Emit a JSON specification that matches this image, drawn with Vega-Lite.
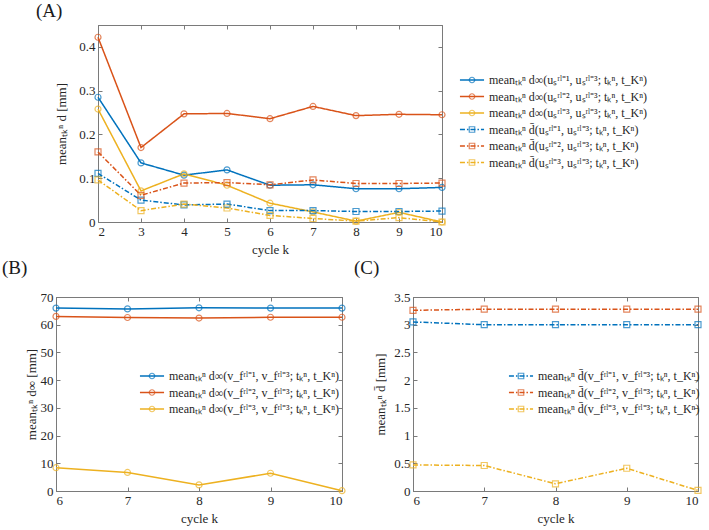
{
  "$schema": "https://vega.github.io/schema/vega-lite/v6.json",
  "background": "white",
  "padding": {"left": 1, "top": 1, "right": 4, "bottom": 3},
  "spacing": 1,
  "resolve": {"scale": {"color": "independent", "stroke": "independent", "shape": "independent", "strokeDash": "independent"}, "legend": {"color": "independent", "stroke": "independent", "shape": "independent", "strokeDash": "independent"}},
  "config": {
    "font": "Liberation Serif",
    "view": {"stroke": "#7a7a7a", "strokeWidth": 1},
    "axis": {
      "grid": false,
      "domainColor": "#7a7a7a",
      "tickColor": "#7a7a7a",
      "tickSize": -4,
      "labelPadding": 7,
      "labelFont": "Liberation Serif",
      "titleFont": "Liberation Serif",
      "labelFontSize": 13,
      "titleFontSize": 13,
      "titleFontWeight": "normal",
      "labelColor": "#262626",
      "titleColor": "#262626",
      "format": "~r"
    },
    "legend": {
      "labelFont": "Liberation Serif",
      "labelFontSize": 12,
      "labelColor": "#262626",
      "labelLimit": 400,
      "padding": 0,
      "rowPadding": 4.5,
      "labelOffset": 11,
      "symbolSize": 30
    },
    "title": {"font": "Liberation Serif", "fontSize": 19, "fontWeight": "normal", "color": "#1a1a1a", "anchor": "start", "frame": "group"}
  },
  "vconcat": [
    {
      "bounds": "flush",
      "spacing": 11,
      "resolve": {"scale": {"color": "independent", "stroke": "independent", "shape": "independent", "strokeDash": "independent"}, "legend": {"color": "independent", "stroke": "independent", "shape": "independent", "strokeDash": "independent"}},
      "hconcat": [
        {"width": 31, "height": 1, "data": {"values": []}, "mark": "point", "view": {"stroke": null}},
        {
          "width": 344,
          "height": 197,
          "title": {"text": "(A)", "dx": -62, "offset": 4},
          "data": {"values": [
            {"k": 2, "v": 0.285, "s": "meanₜₖⁿ d∞(uₛʳˡ⁼¹, uₛʳˡ⁼³; tₖⁿ, t_Kⁿ)"},
            {"k": 3, "v": 0.135, "s": "meanₜₖⁿ d∞(uₛʳˡ⁼¹, uₛʳˡ⁼³; tₖⁿ, t_Kⁿ)"},
            {"k": 4, "v": 0.107, "s": "meanₜₖⁿ d∞(uₛʳˡ⁼¹, uₛʳˡ⁼³; tₖⁿ, t_Kⁿ)"},
            {"k": 5, "v": 0.119, "s": "meanₜₖⁿ d∞(uₛʳˡ⁼¹, uₛʳˡ⁼³; tₖⁿ, t_Kⁿ)"},
            {"k": 6, "v": 0.084, "s": "meanₜₖⁿ d∞(uₛʳˡ⁼¹, uₛʳˡ⁼³; tₖⁿ, t_Kⁿ)"},
            {"k": 7, "v": 0.085, "s": "meanₜₖⁿ d∞(uₛʳˡ⁼¹, uₛʳˡ⁼³; tₖⁿ, t_Kⁿ)"},
            {"k": 8, "v": 0.076, "s": "meanₜₖⁿ d∞(uₛʳˡ⁼¹, uₛʳˡ⁼³; tₖⁿ, t_Kⁿ)"},
            {"k": 9, "v": 0.076, "s": "meanₜₖⁿ d∞(uₛʳˡ⁼¹, uₛʳˡ⁼³; tₖⁿ, t_Kⁿ)"},
            {"k": 10, "v": 0.079, "s": "meanₜₖⁿ d∞(uₛʳˡ⁼¹, uₛʳˡ⁼³; tₖⁿ, t_Kⁿ)"},
            {"k": 2, "v": 0.422, "s": "meanₜₖⁿ d∞(uₛʳˡ⁼², uₛʳˡ⁼³; tₖⁿ, t_Kⁿ)"},
            {"k": 3, "v": 0.170, "s": "meanₜₖⁿ d∞(uₛʳˡ⁼², uₛʳˡ⁼³; tₖⁿ, t_Kⁿ)"},
            {"k": 4, "v": 0.247, "s": "meanₜₖⁿ d∞(uₛʳˡ⁼², uₛʳˡ⁼³; tₖⁿ, t_Kⁿ)"},
            {"k": 5, "v": 0.248, "s": "meanₜₖⁿ d∞(uₛʳˡ⁼², uₛʳˡ⁼³; tₖⁿ, t_Kⁿ)"},
            {"k": 6, "v": 0.236, "s": "meanₜₖⁿ d∞(uₛʳˡ⁼², uₛʳˡ⁼³; tₖⁿ, t_Kⁿ)"},
            {"k": 7, "v": 0.264, "s": "meanₜₖⁿ d∞(uₛʳˡ⁼², uₛʳˡ⁼³; tₖⁿ, t_Kⁿ)"},
            {"k": 8, "v": 0.243, "s": "meanₜₖⁿ d∞(uₛʳˡ⁼², uₛʳˡ⁼³; tₖⁿ, t_Kⁿ)"},
            {"k": 9, "v": 0.246, "s": "meanₜₖⁿ d∞(uₛʳˡ⁼², uₛʳˡ⁼³; tₖⁿ, t_Kⁿ)"},
            {"k": 10, "v": 0.245, "s": "meanₜₖⁿ d∞(uₛʳˡ⁼², uₛʳˡ⁼³; tₖⁿ, t_Kⁿ)"},
            {"k": 2, "v": 0.258, "s": "meanₜₖⁿ d∞(uₛʳˡ⁼³, uₛʳˡ⁼³; tₖⁿ, t_Kⁿ)"},
            {"k": 3, "v": 0.071, "s": "meanₜₖⁿ d∞(uₛʳˡ⁼³, uₛʳˡ⁼³; tₖⁿ, t_Kⁿ)"},
            {"k": 4, "v": 0.110, "s": "meanₜₖⁿ d∞(uₛʳˡ⁼³, uₛʳˡ⁼³; tₖⁿ, t_Kⁿ)"},
            {"k": 5, "v": 0.084, "s": "meanₜₖⁿ d∞(uₛʳˡ⁼³, uₛʳˡ⁼³; tₖⁿ, t_Kⁿ)"},
            {"k": 6, "v": 0.043, "s": "meanₜₖⁿ d∞(uₛʳˡ⁼³, uₛʳˡ⁼³; tₖⁿ, t_Kⁿ)"},
            {"k": 7, "v": 0.023, "s": "meanₜₖⁿ d∞(uₛʳˡ⁼³, uₛʳˡ⁼³; tₖⁿ, t_Kⁿ)"},
            {"k": 8, "v": 0.002, "s": "meanₜₖⁿ d∞(uₛʳˡ⁼³, uₛʳˡ⁼³; tₖⁿ, t_Kⁿ)"},
            {"k": 9, "v": 0.022, "s": "meanₜₖⁿ d∞(uₛʳˡ⁼³, uₛʳˡ⁼³; tₖⁿ, t_Kⁿ)"},
            {"k": 10, "v": 0.000, "s": "meanₜₖⁿ d∞(uₛʳˡ⁼³, uₛʳˡ⁼³; tₖⁿ, t_Kⁿ)"},
            {"k": 2, "v": 0.111, "s": "meanₜₖⁿ d̄(uₛʳˡ⁼¹, uₛʳˡ⁼³; tₖⁿ, t_Kⁿ)"},
            {"k": 3, "v": 0.050, "s": "meanₜₖⁿ d̄(uₛʳˡ⁼¹, uₛʳˡ⁼³; tₖⁿ, t_Kⁿ)"},
            {"k": 4, "v": 0.039, "s": "meanₜₖⁿ d̄(uₛʳˡ⁼¹, uₛʳˡ⁼³; tₖⁿ, t_Kⁿ)"},
            {"k": 5, "v": 0.041, "s": "meanₜₖⁿ d̄(uₛʳˡ⁼¹, uₛʳˡ⁼³; tₖⁿ, t_Kⁿ)"},
            {"k": 6, "v": 0.026, "s": "meanₜₖⁿ d̄(uₛʳˡ⁼¹, uₛʳˡ⁼³; tₖⁿ, t_Kⁿ)"},
            {"k": 7, "v": 0.026, "s": "meanₜₖⁿ d̄(uₛʳˡ⁼¹, uₛʳˡ⁼³; tₖⁿ, t_Kⁿ)"},
            {"k": 8, "v": 0.024, "s": "meanₜₖⁿ d̄(uₛʳˡ⁼¹, uₛʳˡ⁼³; tₖⁿ, t_Kⁿ)"},
            {"k": 9, "v": 0.024, "s": "meanₜₖⁿ d̄(uₛʳˡ⁼¹, uₛʳˡ⁼³; tₖⁿ, t_Kⁿ)"},
            {"k": 10, "v": 0.025, "s": "meanₜₖⁿ d̄(uₛʳˡ⁼¹, uₛʳˡ⁼³; tₖⁿ, t_Kⁿ)"},
            {"k": 2, "v": 0.160, "s": "meanₜₖⁿ d̄(uₛʳˡ⁼², uₛʳˡ⁼³; tₖⁿ, t_Kⁿ)"},
            {"k": 3, "v": 0.061, "s": "meanₜₖⁿ d̄(uₛʳˡ⁼², uₛʳˡ⁼³; tₖⁿ, t_Kⁿ)"},
            {"k": 4, "v": 0.089, "s": "meanₜₖⁿ d̄(uₛʳˡ⁼², uₛʳˡ⁼³; tₖⁿ, t_Kⁿ)"},
            {"k": 5, "v": 0.090, "s": "meanₜₖⁿ d̄(uₛʳˡ⁼², uₛʳˡ⁼³; tₖⁿ, t_Kⁿ)"},
            {"k": 6, "v": 0.085, "s": "meanₜₖⁿ d̄(uₛʳˡ⁼², uₛʳˡ⁼³; tₖⁿ, t_Kⁿ)"},
            {"k": 7, "v": 0.096, "s": "meanₜₖⁿ d̄(uₛʳˡ⁼², uₛʳˡ⁼³; tₖⁿ, t_Kⁿ)"},
            {"k": 8, "v": 0.088, "s": "meanₜₖⁿ d̄(uₛʳˡ⁼², uₛʳˡ⁼³; tₖⁿ, t_Kⁿ)"},
            {"k": 9, "v": 0.088, "s": "meanₜₖⁿ d̄(uₛʳˡ⁼², uₛʳˡ⁼³; tₖⁿ, t_Kⁿ)"},
            {"k": 10, "v": 0.089, "s": "meanₜₖⁿ d̄(uₛʳˡ⁼², uₛʳˡ⁼³; tₖⁿ, t_Kⁿ)"},
            {"k": 2, "v": 0.096, "s": "meanₜₖⁿ d̄(uₛʳˡ⁼³, uₛʳˡ⁼³; tₖⁿ, t_Kⁿ)"},
            {"k": 3, "v": 0.026, "s": "meanₜₖⁿ d̄(uₛʳˡ⁼³, uₛʳˡ⁼³; tₖⁿ, t_Kⁿ)"},
            {"k": 4, "v": 0.041, "s": "meanₜₖⁿ d̄(uₛʳˡ⁼³, uₛʳˡ⁼³; tₖⁿ, t_Kⁿ)"},
            {"k": 5, "v": 0.032, "s": "meanₜₖⁿ d̄(uₛʳˡ⁼³, uₛʳˡ⁼³; tₖⁿ, t_Kⁿ)"},
            {"k": 6, "v": 0.015, "s": "meanₜₖⁿ d̄(uₛʳˡ⁼³, uₛʳˡ⁼³; tₖⁿ, t_Kⁿ)"},
            {"k": 7, "v": 0.008, "s": "meanₜₖⁿ d̄(uₛʳˡ⁼³, uₛʳˡ⁼³; tₖⁿ, t_Kⁿ)"},
            {"k": 8, "v": 0.002, "s": "meanₜₖⁿ d̄(uₛʳˡ⁼³, uₛʳˡ⁼³; tₖⁿ, t_Kⁿ)"},
            {"k": 9, "v": 0.010, "s": "meanₜₖⁿ d̄(uₛʳˡ⁼³, uₛʳˡ⁼³; tₖⁿ, t_Kⁿ)"},
            {"k": 10, "v": 0.000, "s": "meanₜₖⁿ d̄(uₛʳˡ⁼³, uₛʳˡ⁼³; tₖⁿ, t_Kⁿ)"}
          ]},
          "layer": [
            {
              "mark": {"type": "line", "strokeWidth": 1.5},
              "encoding": {
                "x": {"field": "k", "type": "quantitative", "scale": {"domain": [2, 10], "nice": false, "zero": false}, "axis": {"orient": "bottom", "values": [2, 3, 4, 5, 6, 7, 8, 9, 10], "title": "cycle k", "titlePadding": 5}},
                "y": {"field": "v", "type": "quantitative", "scale": {"domain": [0, 0.45], "nice": false}, "axis": {"orient": "left", "values": [0, 0.1, 0.2, 0.3, 0.4], "title": "meanₜₖⁿ d [mm]", "titlePadding": 10}},
                "color": {"field": "s", "type": "nominal",
                  "scale": {"domain": ["meanₜₖⁿ d∞(uₛʳˡ⁼¹, uₛʳˡ⁼³; tₖⁿ, t_Kⁿ)", "meanₜₖⁿ d∞(uₛʳˡ⁼², uₛʳˡ⁼³; tₖⁿ, t_Kⁿ)", "meanₜₖⁿ d∞(uₛʳˡ⁼³, uₛʳˡ⁼³; tₖⁿ, t_Kⁿ)", "meanₜₖⁿ d̄(uₛʳˡ⁼¹, uₛʳˡ⁼³; tₖⁿ, t_Kⁿ)", "meanₜₖⁿ d̄(uₛʳˡ⁼², uₛʳˡ⁼³; tₖⁿ, t_Kⁿ)", "meanₜₖⁿ d̄(uₛʳˡ⁼³, uₛʳˡ⁼³; tₖⁿ, t_Kⁿ)"],
                    "range": ["#0072BD", "#D95319", "#EDB120", "#0072BD", "#D95319", "#EDB120"]},
                  "legend": {"orient": "none", "legendX": 368, "legendY": 49, "title": null, "symbolType": "M-4.4,0H4.4", "symbolStrokeWidth": 1.5}},
                "strokeDash": {"field": "s", "type": "nominal",
                  "scale": {"domain": ["meanₜₖⁿ d∞(uₛʳˡ⁼¹, uₛʳˡ⁼³; tₖⁿ, t_Kⁿ)", "meanₜₖⁿ d∞(uₛʳˡ⁼², uₛʳˡ⁼³; tₖⁿ, t_Kⁿ)", "meanₜₖⁿ d∞(uₛʳˡ⁼³, uₛʳˡ⁼³; tₖⁿ, t_Kⁿ)", "meanₜₖⁿ d̄(uₛʳˡ⁼¹, uₛʳˡ⁼³; tₖⁿ, t_Kⁿ)", "meanₜₖⁿ d̄(uₛʳˡ⁼², uₛʳˡ⁼³; tₖⁿ, t_Kⁿ)", "meanₜₖⁿ d̄(uₛʳˡ⁼³, uₛʳˡ⁼³; tₖⁿ, t_Kⁿ)"],
                    "range": [[1, 0], [1, 0], [1, 0], [5, 2, 1.5, 2], [5, 2, 1.5, 2], [5, 2, 1.5, 2]]},
                  "legend": {"orient": "none", "legendX": 368, "legendY": 49, "title": null, "symbolType": "M-4.4,0H4.4", "symbolStrokeWidth": 1.5}}
              }
            },
            {
              "mark": {"type": "point", "filled": false, "size": 36, "strokeWidth": 1.2},
              "encoding": {
                "x": {"field": "k", "type": "quantitative", "scale": {"domain": [2, 10], "nice": false, "zero": false}, "axis": {"orient": "top", "values": [2, 3, 4, 5, 6, 7, 8, 9, 10], "labels": false, "title": null}},
                "y": {"field": "v", "type": "quantitative", "scale": {"domain": [0, 0.45], "nice": false}, "axis": {"orient": "right", "values": [0, 0.1, 0.2, 0.3, 0.4], "labels": false, "title": null}},
                "stroke": {"field": "s", "type": "nominal",
                  "scale": {"domain": ["meanₜₖⁿ d̄(uₛʳˡ⁼³, uₛʳˡ⁼³; tₖⁿ, t_Kⁿ)", "meanₜₖⁿ d̄(uₛʳˡ⁼², uₛʳˡ⁼³; tₖⁿ, t_Kⁿ)", "meanₜₖⁿ d̄(uₛʳˡ⁼¹, uₛʳˡ⁼³; tₖⁿ, t_Kⁿ)", "meanₜₖⁿ d∞(uₛʳˡ⁼³, uₛʳˡ⁼³; tₖⁿ, t_Kⁿ)", "meanₜₖⁿ d∞(uₛʳˡ⁼², uₛʳˡ⁼³; tₖⁿ, t_Kⁿ)", "meanₜₖⁿ d∞(uₛʳˡ⁼¹, uₛʳˡ⁼³; tₖⁿ, t_Kⁿ)"],
                    "range": ["#EDB120", "#D95319", "#0072BD", "#EDB120", "#D95319", "#0072BD"]},
                  "legend": {"orient": "none", "legendX": 368, "legendY": 49, "title": null, "labelOpacity": 0, "symbolStrokeWidth": 1.2, "symbolFillColor": "transparent",
                    "values": ["meanₜₖⁿ d∞(uₛʳˡ⁼¹, uₛʳˡ⁼³; tₖⁿ, t_Kⁿ)", "meanₜₖⁿ d∞(uₛʳˡ⁼², uₛʳˡ⁼³; tₖⁿ, t_Kⁿ)", "meanₜₖⁿ d∞(uₛʳˡ⁼³, uₛʳˡ⁼³; tₖⁿ, t_Kⁿ)", "meanₜₖⁿ d̄(uₛʳˡ⁼¹, uₛʳˡ⁼³; tₖⁿ, t_Kⁿ)", "meanₜₖⁿ d̄(uₛʳˡ⁼², uₛʳˡ⁼³; tₖⁿ, t_Kⁿ)", "meanₜₖⁿ d̄(uₛʳˡ⁼³, uₛʳˡ⁼³; tₖⁿ, t_Kⁿ)"]}},
                "shape": {"field": "s", "type": "nominal",
                  "scale": {"domain": ["meanₜₖⁿ d̄(uₛʳˡ⁼³, uₛʳˡ⁼³; tₖⁿ, t_Kⁿ)", "meanₜₖⁿ d̄(uₛʳˡ⁼², uₛʳˡ⁼³; tₖⁿ, t_Kⁿ)", "meanₜₖⁿ d̄(uₛʳˡ⁼¹, uₛʳˡ⁼³; tₖⁿ, t_Kⁿ)", "meanₜₖⁿ d∞(uₛʳˡ⁼³, uₛʳˡ⁼³; tₖⁿ, t_Kⁿ)", "meanₜₖⁿ d∞(uₛʳˡ⁼², uₛʳˡ⁼³; tₖⁿ, t_Kⁿ)", "meanₜₖⁿ d∞(uₛʳˡ⁼¹, uₛʳˡ⁼³; tₖⁿ, t_Kⁿ)"],
                    "range": ["square", "square", "square", "circle", "circle", "circle"]},
                  "legend": {"orient": "none", "legendX": 368, "legendY": 49, "title": null, "labelOpacity": 0, "symbolStrokeWidth": 1.2, "symbolFillColor": "transparent",
                    "values": ["meanₜₖⁿ d∞(uₛʳˡ⁼¹, uₛʳˡ⁼³; tₖⁿ, t_Kⁿ)", "meanₜₖⁿ d∞(uₛʳˡ⁼², uₛʳˡ⁼³; tₖⁿ, t_Kⁿ)", "meanₜₖⁿ d∞(uₛʳˡ⁼³, uₛʳˡ⁼³; tₖⁿ, t_Kⁿ)", "meanₜₖⁿ d̄(uₛʳˡ⁼¹, uₛʳˡ⁼³; tₖⁿ, t_Kⁿ)", "meanₜₖⁿ d̄(uₛʳˡ⁼², uₛʳˡ⁼³; tₖⁿ, t_Kⁿ)", "meanₜₖⁿ d̄(uₛʳˡ⁼³, uₛʳˡ⁼³; tₖⁿ, t_Kⁿ)"]}}
              }
            }
          ],
          "resolve": {"axis": {"x": "independent", "y": "independent"}}
        }
      ]
    },
    {
      "bounds": "flush",
      "spacing": 71,
      "resolve": {"scale": {"color": "independent", "stroke": "independent", "shape": "independent", "strokeDash": "independent"}, "legend": {"color": "independent", "stroke": "independent", "shape": "independent", "strokeDash": "independent"}},
      "hconcat": [
        {
          "width": 286,
          "height": 194,
          "title": {"text": "(B)", "dx": -54, "offset": 13},
          "data": {"values": [
            {"k": 6, "v": 66.0, "s": "meanₜₖⁿ d∞(v_fʳˡ⁼¹, v_fʳˡ⁼³; tₖⁿ, t_Kⁿ)"},
            {"k": 7, "v": 65.7, "s": "meanₜₖⁿ d∞(v_fʳˡ⁼¹, v_fʳˡ⁼³; tₖⁿ, t_Kⁿ)"},
            {"k": 8, "v": 66.1, "s": "meanₜₖⁿ d∞(v_fʳˡ⁼¹, v_fʳˡ⁼³; tₖⁿ, t_Kⁿ)"},
            {"k": 9, "v": 66.0, "s": "meanₜₖⁿ d∞(v_fʳˡ⁼¹, v_fʳˡ⁼³; tₖⁿ, t_Kⁿ)"},
            {"k": 10, "v": 66.0, "s": "meanₜₖⁿ d∞(v_fʳˡ⁼¹, v_fʳˡ⁼³; tₖⁿ, t_Kⁿ)"},
            {"k": 6, "v": 63.0, "s": "meanₜₖⁿ d∞(v_fʳˡ⁼², v_fʳˡ⁼³; tₖⁿ, t_Kⁿ)"},
            {"k": 7, "v": 62.6, "s": "meanₜₖⁿ d∞(v_fʳˡ⁼², v_fʳˡ⁼³; tₖⁿ, t_Kⁿ)"},
            {"k": 8, "v": 62.4, "s": "meanₜₖⁿ d∞(v_fʳˡ⁼², v_fʳˡ⁼³; tₖⁿ, t_Kⁿ)"},
            {"k": 9, "v": 62.7, "s": "meanₜₖⁿ d∞(v_fʳˡ⁼², v_fʳˡ⁼³; tₖⁿ, t_Kⁿ)"},
            {"k": 10, "v": 62.7, "s": "meanₜₖⁿ d∞(v_fʳˡ⁼², v_fʳˡ⁼³; tₖⁿ, t_Kⁿ)"},
            {"k": 6, "v": 8.4, "s": "meanₜₖⁿ d∞(v_fʳˡ⁼³, v_fʳˡ⁼³; tₖⁿ, t_Kⁿ)"},
            {"k": 7, "v": 6.7, "s": "meanₜₖⁿ d∞(v_fʳˡ⁼³, v_fʳˡ⁼³; tₖⁿ, t_Kⁿ)"},
            {"k": 8, "v": 2.2, "s": "meanₜₖⁿ d∞(v_fʳˡ⁼³, v_fʳˡ⁼³; tₖⁿ, t_Kⁿ)"},
            {"k": 9, "v": 6.4, "s": "meanₜₖⁿ d∞(v_fʳˡ⁼³, v_fʳˡ⁼³; tₖⁿ, t_Kⁿ)"},
            {"k": 10, "v": 0.1, "s": "meanₜₖⁿ d∞(v_fʳˡ⁼³, v_fʳˡ⁼³; tₖⁿ, t_Kⁿ)"}
          ]},
          "layer": [
            {
              "mark": {"type": "line", "strokeWidth": 1.5},
              "encoding": {
                "x": {"field": "k", "type": "quantitative", "scale": {"domain": [6, 10], "nice": false, "zero": false}, "axis": {"orient": "bottom", "values": [6, 7, 8, 9, 10], "title": "cycle k", "titlePadding": 5}},
                "y": {"field": "v", "type": "quantitative", "scale": {"domain": [0, 70], "nice": false}, "axis": {"orient": "left", "values": [0, 10, 20, 30, 40, 50, 60, 70], "title": "meanₜₖⁿ d∞ [mm]", "titlePadding": 2}},
                "color": {"field": "s", "type": "nominal",
                  "scale": {"domain": ["meanₜₖⁿ d∞(v_fʳˡ⁼¹, v_fʳˡ⁼³; tₖⁿ, t_Kⁿ)", "meanₜₖⁿ d∞(v_fʳˡ⁼², v_fʳˡ⁼³; tₖⁿ, t_Kⁿ)", "meanₜₖⁿ d∞(v_fʳˡ⁼³, v_fʳˡ⁼³; tₖⁿ, t_Kⁿ)"],
                    "range": ["#0072BD", "#D95319", "#EDB120"]},
                  "legend": {"orient": "none", "legendX": 90, "legendY": 73, "title": null, "symbolType": "M-4.4,0H4.4", "symbolStrokeWidth": 1.5}}
              }
            },
            {
              "mark": {"type": "point", "filled": false, "size": 36, "strokeWidth": 1.2},
              "encoding": {
                "x": {"field": "k", "type": "quantitative", "scale": {"domain": [6, 10], "nice": false, "zero": false}, "axis": {"orient": "top", "values": [6, 7, 8, 9, 10], "labels": false, "title": null}},
                "y": {"field": "v", "type": "quantitative", "scale": {"domain": [0, 70], "nice": false}, "axis": {"orient": "right", "values": [0, 10, 20, 30, 40, 50, 60, 70], "labels": false, "title": null}},
                "stroke": {"field": "s", "type": "nominal",
                  "scale": {"domain": ["meanₜₖⁿ d∞(v_fʳˡ⁼³, v_fʳˡ⁼³; tₖⁿ, t_Kⁿ)", "meanₜₖⁿ d∞(v_fʳˡ⁼², v_fʳˡ⁼³; tₖⁿ, t_Kⁿ)", "meanₜₖⁿ d∞(v_fʳˡ⁼¹, v_fʳˡ⁼³; tₖⁿ, t_Kⁿ)"],
                    "range": ["#EDB120", "#D95319", "#0072BD"]},
                  "legend": {"orient": "none", "legendX": 90, "legendY": 73, "title": null, "labelOpacity": 0, "symbolType": "circle", "symbolStrokeWidth": 1.2, "symbolFillColor": "transparent",
                    "values": ["meanₜₖⁿ d∞(v_fʳˡ⁼¹, v_fʳˡ⁼³; tₖⁿ, t_Kⁿ)", "meanₜₖⁿ d∞(v_fʳˡ⁼², v_fʳˡ⁼³; tₖⁿ, t_Kⁿ)", "meanₜₖⁿ d∞(v_fʳˡ⁼³, v_fʳˡ⁼³; tₖⁿ, t_Kⁿ)"]}}
              }
            }
          ],
          "resolve": {"axis": {"x": "independent", "y": "independent"}}
        },
        {
          "width": 285,
          "height": 194,
          "title": {"text": "(C)", "dx": -59, "offset": 13},
          "data": {"values": [
            {"k": 6, "v": 3.05, "s": "meanₜₖⁿ d̄(v_fʳˡ⁼¹, v_fʳˡ⁼³; tₖⁿ, t_Kⁿ)"},
            {"k": 7, "v": 3.0, "s": "meanₜₖⁿ d̄(v_fʳˡ⁼¹, v_fʳˡ⁼³; tₖⁿ, t_Kⁿ)"},
            {"k": 8, "v": 3.0, "s": "meanₜₖⁿ d̄(v_fʳˡ⁼¹, v_fʳˡ⁼³; tₖⁿ, t_Kⁿ)"},
            {"k": 9, "v": 3.0, "s": "meanₜₖⁿ d̄(v_fʳˡ⁼¹, v_fʳˡ⁼³; tₖⁿ, t_Kⁿ)"},
            {"k": 10, "v": 3.0, "s": "meanₜₖⁿ d̄(v_fʳˡ⁼¹, v_fʳˡ⁼³; tₖⁿ, t_Kⁿ)"},
            {"k": 6, "v": 3.26, "s": "meanₜₖⁿ d̄(v_fʳˡ⁼², v_fʳˡ⁼³; tₖⁿ, t_Kⁿ)"},
            {"k": 7, "v": 3.28, "s": "meanₜₖⁿ d̄(v_fʳˡ⁼², v_fʳˡ⁼³; tₖⁿ, t_Kⁿ)"},
            {"k": 8, "v": 3.28, "s": "meanₜₖⁿ d̄(v_fʳˡ⁼², v_fʳˡ⁼³; tₖⁿ, t_Kⁿ)"},
            {"k": 9, "v": 3.28, "s": "meanₜₖⁿ d̄(v_fʳˡ⁼², v_fʳˡ⁼³; tₖⁿ, t_Kⁿ)"},
            {"k": 10, "v": 3.28, "s": "meanₜₖⁿ d̄(v_fʳˡ⁼², v_fʳˡ⁼³; tₖⁿ, t_Kⁿ)"},
            {"k": 6, "v": 0.47, "s": "meanₜₖⁿ d̄(v_fʳˡ⁼³, v_fʳˡ⁼³; tₖⁿ, t_Kⁿ)"},
            {"k": 7, "v": 0.46, "s": "meanₜₖⁿ d̄(v_fʳˡ⁼³, v_fʳˡ⁼³; tₖⁿ, t_Kⁿ)"},
            {"k": 8, "v": 0.13, "s": "meanₜₖⁿ d̄(v_fʳˡ⁼³, v_fʳˡ⁼³; tₖⁿ, t_Kⁿ)"},
            {"k": 9, "v": 0.41, "s": "meanₜₖⁿ d̄(v_fʳˡ⁼³, v_fʳˡ⁼³; tₖⁿ, t_Kⁿ)"},
            {"k": 10, "v": 0.01, "s": "meanₜₖⁿ d̄(v_fʳˡ⁼³, v_fʳˡ⁼³; tₖⁿ, t_Kⁿ)"}
          ]},
          "layer": [
            {
              "mark": {"type": "line", "strokeWidth": 1.5, "strokeDash": [5, 2, 1.5, 2]},
              "encoding": {
                "x": {"field": "k", "type": "quantitative", "scale": {"domain": [6, 10], "nice": false, "zero": false}, "axis": {"orient": "bottom", "values": [6, 7, 8, 9, 10], "title": "cycle k", "titlePadding": 5}},
                "y": {"field": "v", "type": "quantitative", "scale": {"domain": [0, 3.5], "nice": false}, "axis": {"orient": "left", "values": [0, 0.5, 1, 1.5, 2, 2.5, 3, 3.5], "title": "meanₜₖⁿ d̄ [mm]", "titlePadding": 6}},
                "color": {"field": "s", "type": "nominal",
                  "scale": {"domain": ["meanₜₖⁿ d̄(v_fʳˡ⁼¹, v_fʳˡ⁼³; tₖⁿ, t_Kⁿ)", "meanₜₖⁿ d̄(v_fʳˡ⁼², v_fʳˡ⁼³; tₖⁿ, t_Kⁿ)", "meanₜₖⁿ d̄(v_fʳˡ⁼³, v_fʳˡ⁼³; tₖⁿ, t_Kⁿ)"],
                    "range": ["#0072BD", "#D95319", "#EDB120"]},
                  "legend": {"orient": "none", "legendX": 102, "legendY": 73, "title": null, "symbolType": "M-4.4,0H4.4", "symbolStrokeWidth": 1.5, "symbolDash": [5, 2, 1.5, 2]}}
              }
            },
            {
              "mark": {"type": "point", "filled": false, "size": 36, "strokeWidth": 1.2, "shape": "square"},
              "encoding": {
                "x": {"field": "k", "type": "quantitative", "scale": {"domain": [6, 10], "nice": false, "zero": false}, "axis": {"orient": "top", "values": [6, 7, 8, 9, 10], "labels": false, "title": null}},
                "y": {"field": "v", "type": "quantitative", "scale": {"domain": [0, 3.5], "nice": false}, "axis": {"orient": "right", "values": [0, 0.5, 1, 1.5, 2, 2.5, 3, 3.5], "labels": false, "title": null}},
                "stroke": {"field": "s", "type": "nominal",
                  "scale": {"domain": ["meanₜₖⁿ d̄(v_fʳˡ⁼³, v_fʳˡ⁼³; tₖⁿ, t_Kⁿ)", "meanₜₖⁿ d̄(v_fʳˡ⁼², v_fʳˡ⁼³; tₖⁿ, t_Kⁿ)", "meanₜₖⁿ d̄(v_fʳˡ⁼¹, v_fʳˡ⁼³; tₖⁿ, t_Kⁿ)"],
                    "range": ["#EDB120", "#D95319", "#0072BD"]},
                  "legend": {"orient": "none", "legendX": 102, "legendY": 73, "title": null, "labelOpacity": 0, "symbolType": "square", "symbolStrokeWidth": 1.2, "symbolFillColor": "transparent",
                    "values": ["meanₜₖⁿ d̄(v_fʳˡ⁼¹, v_fʳˡ⁼³; tₖⁿ, t_Kⁿ)", "meanₜₖⁿ d̄(v_fʳˡ⁼², v_fʳˡ⁼³; tₖⁿ, t_Kⁿ)", "meanₜₖⁿ d̄(v_fʳˡ⁼³, v_fʳˡ⁼³; tₖⁿ, t_Kⁿ)"]}}
              }
            }
          ],
          "resolve": {"axis": {"x": "independent", "y": "independent"}}
        }
      ]
    }
  ]
}
